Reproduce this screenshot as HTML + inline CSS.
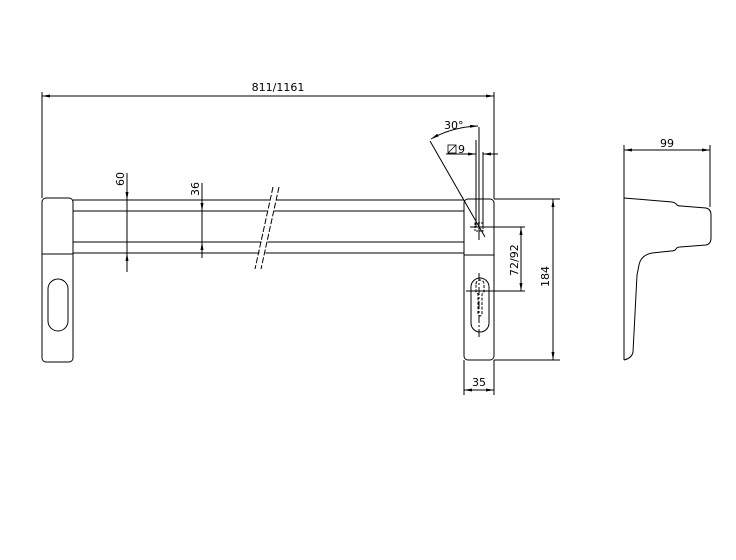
<!DOCTYPE html>
<html><head><style>body{margin:0;background:#fff}svg{display:block}text{font-family:"DejaVu Sans","Liberation Sans",sans-serif;font-size:11px;fill:#000}</style></head><body>
<svg width="736" height="560" viewBox="0 0 736 560" xmlns="http://www.w3.org/2000/svg">
<defs><marker id="a" markerWidth="8" markerHeight="6" refX="8" refY="3" orient="auto-start-reverse"><path d="M0,1.5 L8,3 L0,4.5z" fill="#000"/></marker></defs>
<g stroke="#000" stroke-width="1" fill="none">
<!-- top dim -->
<line x1="42" y1="96" x2="494" y2="96" marker-start="url(#a)" marker-end="url(#a)"/>
<line x1="42" y1="92" x2="42" y2="198"/>
<line x1="494" y1="92" x2="494" y2="199"/>
<!-- left plate -->
<rect x="42" y="198" width="31" height="164" rx="4"/>
<line x1="42" y1="254" x2="73" y2="254"/>
<rect x="48" y="279" width="20" height="52" rx="10"/>
<!-- bars -->
<line x1="73" y1="200" x2="464" y2="200"/>
<line x1="73" y1="211" x2="464" y2="211"/>
<line x1="73" y1="242" x2="464" y2="242"/>
<line x1="73" y1="253" x2="464" y2="253"/>
<polygon points="273,186 279,186 262,270 256,270" fill="#fff" stroke="none"/>
<line x1="273" y1="187" x2="255" y2="269" stroke-dasharray="6,2"/>
<line x1="279" y1="187" x2="261" y2="269" stroke-dasharray="6,2"/>
<!-- 60, 36 -->
<line x1="127" y1="173" x2="127" y2="272"/>
<line x1="127" y1="188" x2="127" y2="200" marker-end="url(#a)"/>
<line x1="127" y1="265" x2="127" y2="253" marker-end="url(#a)"/>
<line x1="202" y1="183" x2="202" y2="258"/>
<line x1="202" y1="200" x2="202" y2="211" marker-end="url(#a)"/>
<line x1="202" y1="253" x2="202" y2="242" marker-end="url(#a)"/>
<!-- right plate -->
<rect x="464" y="199" width="30" height="161" rx="4"/>
<line x1="464" y1="255" x2="494" y2="255"/>
<rect x="471" y="278" width="18" height="54" rx="9"/>
<path d="M476,284 a4,4 0 0 1 8,0 v8 l-2,2 v20 a2,2 0 0 1 -4,0 v-20 l-2,-2z" stroke-dasharray="3,1.5"/>
<line x1="479" y1="273" x2="479" y2="338" stroke-dasharray="8,2,2,2"/>
<line x1="466" y1="291" x2="525" y2="291"/>
<!-- spindle -->
<line x1="476" y1="140" x2="476" y2="227"/>
<line x1="483" y1="152" x2="483" y2="227"/>
<line x1="479" y1="127" x2="479" y2="240"/>
<rect x="475" y="223" width="8" height="8" stroke-dasharray="2,1"/>
<line x1="470" y1="227" x2="525" y2="227"/>
<line x1="446" y1="154" x2="476" y2="154"/>
<line x1="468" y1="154" x2="476" y2="154" marker-end="url(#a)"/>
<line x1="491" y1="154" x2="483" y2="154" marker-end="url(#a)"/>
<line x1="483" y1="154" x2="498" y2="154"/>
<line x1="430" y1="141" x2="485" y2="237"/>
<path d="M431,139 Q452,127 478,126" marker-end="url(#a)" marker-start="url(#a)"/>
<rect x="448" y="145" width="8" height="8" stroke-width="0.8"/>
<line x1="448" y1="153" x2="456" y2="145" stroke-width="0.8"/>
<!-- 72/92 -->
<line x1="521" y1="227" x2="521" y2="291" marker-start="url(#a)" marker-end="url(#a)"/>
<!-- 184 -->
<line x1="494" y1="199" x2="560" y2="199"/>
<line x1="494" y1="360" x2="560" y2="360"/>
<line x1="553" y1="199" x2="553" y2="360" marker-start="url(#a)" marker-end="url(#a)"/>
<!-- 35 -->
<line x1="464" y1="360" x2="464" y2="395"/>
<line x1="494" y1="360" x2="494" y2="395"/>
<line x1="464" y1="390" x2="494" y2="390" marker-start="url(#a)" marker-end="url(#a)"/>
<!-- side view -->
<line x1="624" y1="145" x2="624" y2="360"/>
<line x1="710" y1="145" x2="710" y2="207"/>
<line x1="624" y1="150" x2="710" y2="150" marker-start="url(#a)" marker-end="url(#a)"/>
<path d="M624,198 L672,202 Q676,203 677,205 Q678,206 681,206 L706,208 Q711,209 711,215 L711,238 Q711,244 706,245 L680,247 Q677,247 676,249 Q675,251 671,251 L652,253 Q641,255 639,265 L637,275 L633,352 Q632,358 624,360"/>
</g>
<text x="278" y="91" text-anchor="middle">811/1161</text>
<text transform="translate(124,186) rotate(-90)">60</text>
<text transform="translate(199,196) rotate(-90)">36</text>
<text x="444" y="129">30°</text>
<text x="458" y="153">9</text>
<text transform="translate(518,276) rotate(-90)">72/92</text>
<text transform="translate(549,287) rotate(-90)">184</text>
<text x="479" y="386" text-anchor="middle">35</text>
<text x="667" y="147" text-anchor="middle">99</text>
</svg>
</body></html>
